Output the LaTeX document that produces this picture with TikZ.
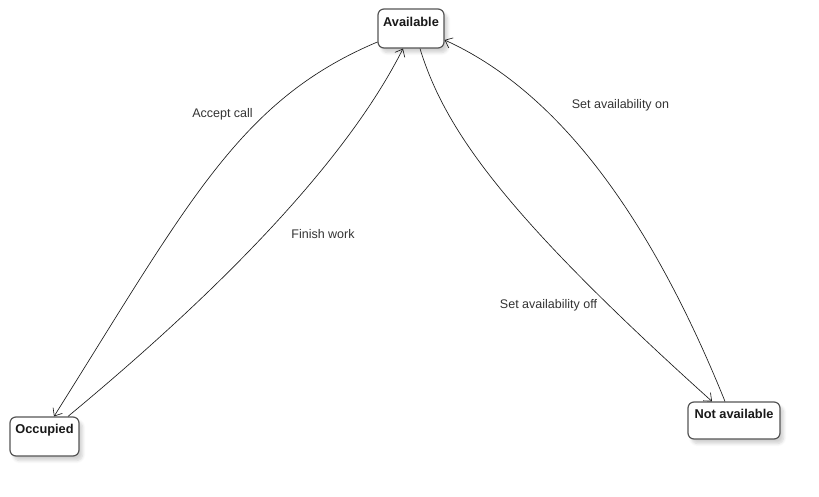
\documentclass[tikz,border=0pt]{standalone}
\usepackage{fontspec}
\setmainfont{Liberation Sans}
\usetikzlibrary{arrows.meta,shadows.blur}
\definecolor{boxline}{HTML}{555555}
\definecolor{txt}{HTML}{333333}
\definecolor{edgec}{HTML}{1A1A1A}
\begin{document}
\begin{tikzpicture}[x=1pt,y=-1pt,
  stbox/.style={draw=boxline, line width=1.2pt, rounded corners=6pt, fill=white,
    blur shadow={shadow xshift=3.5pt, shadow yshift=-4.5pt, shadow blur steps=6, shadow opacity=18, shadow blur radius=3pt},
    inner sep=0pt},
  sttext/.style={font=\fontsize{12.8}{14}\selectfont\bfseries, text=black!90, inner sep=0pt},
  lbl/.style={font=\fontsize{12.5}{14}\selectfont, text=txt, inner sep=0pt},
  conn/.style={draw=edgec, line width=0.65pt, -{Straight Barb[length=6.5pt,width=11pt,line width=0.65pt]}}
]
\useasboundingbox (0,0) rectangle (819,497);

% states
\node[stbox, minimum width=66pt, minimum height=39pt] (av) at (411,28.5) {};
\node[sttext] (avt) at ([yshift=-14pt]av.north) {Available};

\node[stbox, minimum width=69pt, minimum height=39pt] (oc) at (44.5,436.5) {};
\node[sttext] (oct) at ([yshift=-14pt]oc.north) {Occupied};

\node[stbox, minimum width=92pt, minimum height=37pt] (na) at (734,420.5) {};
\node[sttext] (nat) at ([yshift=-13pt]na.north) {Not available};

% transitions
\draw[conn] ([yshift=-13.5pt]av.west) .. controls (240,100) and (190,200) .. ([xshift=9.5pt]oc.north);

\draw[conn] ([xshift=23.5pt]oc.north) .. controls (241,273) and (352,150) .. ([xshift=-8pt]av.south);

\draw[conn] ([xshift=9pt]av.south) .. controls (445,130) and (505,215) .. ([xshift=-22pt]na.north);

\draw[conn] ([xshift=-9pt]na.north) .. controls (648,211) and (555,90) .. ([yshift=-11.5pt]av.east);

% labels
\node[lbl] (l1) at (222.5,114) {Accept call};
\node[lbl] (l2) at (323,234.5) {Finish work};
\node[lbl] (l3) at (620.5,105.5) {Set availability on};
\node[lbl] (l4) at (548.5,305.5) {Set availability off};
\end{tikzpicture}
\end{document}
